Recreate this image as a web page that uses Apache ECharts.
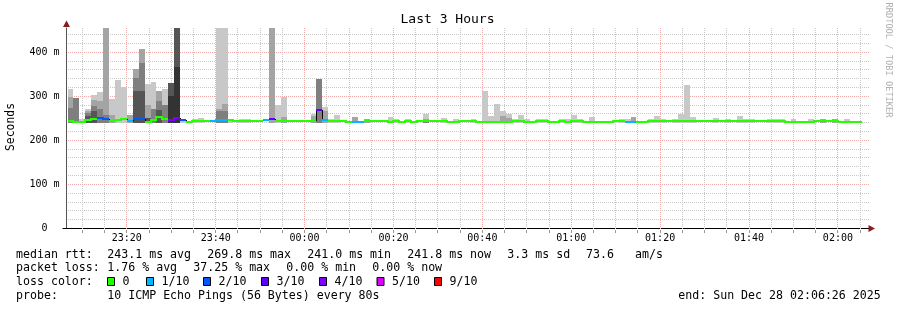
<!DOCTYPE html>
<html><head><meta charset="utf-8">
<script src="https://cdn.jsdelivr.net/npm/echarts@6/dist/echarts.min.js"></script>
<style>html,body{margin:0;padding:0;background:#fff}#c{width:897px;height:310px}</style>
</head><body><div id="c"></div>
<script>
// ---------------- data ----------------
const axisStart = '23:06:26';
const dataStart = '23:06:40';
const stepSeconds = 80;
const spanMinutes = 180;
const xTickLabels = ['23:20','23:40','00:00','00:20','00:40','01:00','01:20','01:40','02:00'];
const yTickValues = [0, 100, 200, 300, 400];
const yMax = 455;
const smokeLow = 240.5;

const median = [
 244,242,242,246.5,249,251,248.5,244,246,248.5,
 244,248.5,248.5,242,246,253,248.5,246,251,246,
 242,243,243,243,245,246,246,247,243,243,
 243,243,245,246,249.5,245,245,245,245,245,
 245,245,269.8,246,243,245,243,242,242.5,242.5,
 243,243,243,243,241.5,243,241,243,241,243,
 243,243,243,243,242,242,243,243,243,242,
 242,242,242,242,242,243,243,242,242,243,
 243,242,242,243,242,243,243,242,242,241.5,
 241.5,241.5,243,243,242,242,241,241,243,243,
 243,243,243,243,244,243,243,243,243,244,
 243,243,244.5,243,243,243,244.5,243,243,243,
 243,241,241,241,241,241,243,243,243,243,
 241,241,241,242
];
const loss = [
 0,0,0,0,0,2,2,0,0,0,
 1,2,2,0,0,0,0,4,4,2,
 0,0,0,0,1,1,1,0,0,0,
 0,0,0,1,3,0,0,0,0,0,
 0,0,3,1,0,0,0,0,1,1,
 0,0,0,0,0,0,0,0,0,0,
 0,0,0,0,0,0,0,0,0,0,
 0,0,0,0,0,0,0,0,0,0,
 0,0,0,0,0,0,0,0,0,0,
 0,0,0,0,1,1,0,0,0,0,
 0,0,0,0,0,0,0,0,0,0,
 0,0,0,0,0,0,0,0,0,0,
 0,0,0,0,0,0,0,0,0,0,
 0,0,0,0
];
// smoke band tops, lightest (outer pings) to darkest (inner pings); 0 = no band
const smoke1 = [
 317,0,249,271,303,310,0,294,337,321,
 0,0,0,328,333,0,317,0,0,249,
 0,249,250,0,0,470,470,249,0,247.5,
 247.5,0,0,0,0,281,299,0,0,0,
 0,260,0,276,249,258,0,0,0,0,
 0,0,0,0,253,247.5,0,247.5,0,0,
 260,0,0,251,0,247.5,0,0,247.5,0,
 312,256,283,267,260,247.5,258,247.5,0,249,
 249,0,0,249,247.5,258,247.5,0,253,0,
 0,0,0,249,249,0,0,0,247.5,256,
 247.5,0,249,260,326,253,0,0,0,251,
 0,247.5,0,256,247.5,247.5,0,0,247.5,247.5,
 247.5,0,247.5,0,0,247.5,0,0,0,0,
 0,247.5,0,0
];
const smoke2 = [
 299,0,0,266,292,290,470,258,0,0,
 258,362,407,280,0,312,0,0,0,0,
 0,0,0,0,0,271.5,283,0,0,0,
 0,0,0,0,470,0,253,0,0,0,
 0,255,0,266,0,0,0,0,253,0,
 249,0,0,0,0,0,0,0,0,0,
 249,0,0,0,0,0,0,0,0,0,
 0,0,0,256,251,0,0,0,0,0,
 0,0,0,0,0,0,0,0,0,0,
 0,0,0,0,0,253,0,0,0,0,
 0,0,0,0,0,0,0,0,0,0,
 0,0,0,0,0,0,0,0,0,0,
 0,0,0,0,0,0,0,248,0,248,
 0,0,0,0
];
const smoke3 = [
 273,297,0,262,278,271,258,0,0,0,
 0,342,376,0,271,290,281,0,0,0,
 0,0,0,0,0,266,266,0,0,0,
 0,0,0,0,0,0,0,0,0,0,
 0,0,340,0,0,0,0,0,0,0,
 0,0,0,0,0,0,0,0,0,0,
 247,0,0,0,0,0,0,0,0,0,
 0,0,0,0,0,0,0,0,0,0,
 0,0,0,0,0,0,0,0,0,0,
 0,0,0,0,0,0,0,0,0,0,
 0,0,0,0,0,0,0,0,0,0,
 0,0,0,0,0,0,0,0,0,0,
 0,0,0,0,0,0,0,0,0,0,
 0,0,0,0
];
const smoke4 = [
 0,0,0,256,266,0,0,0,0,0,
 0,312,312,250,0,270,0,330,470,0,
 0,0,0,0,0,0,0,0,0,0,
 0,0,0,0,0,0,0,0,0,0,
 0,0,0,0,0,0,0,0,0,0,
 0,0,0,0,0,0,0,0,0,0,
 0,0,0,0,0,0,0,0,0,0,
 0,0,0,0,0,0,0,0,0,0,
 0,0,0,0,0,0,0,0,0,0,
 0,0,0,0,0,0,0,0,0,0,
 0,0,0,0,0,0,0,0,0,0,
 0,0,0,0,0,0,0,0,0,0,
 0,0,0,0,0,0,0,0,0,0,
 0,0,0,0
];
const smoke5 = [
 0,0,0,0,0,0,0,0,0,0,
 0,0,0,0,0,0,0,300,367,0,
 0,0,0,0,0,0,0,0,0,0,
 0,0,0,0,0,0,0,0,0,0,
 0,0,0,0,0,0,0,0,0,0,
 0,0,0,0,0,0,0,0,0,0,
 0,0,0,0,0,0,0,0,0,0,
 0,0,0,0,0,0,0,0,0,0,
 0,0,0,0,0,0,0,0,0,0,
 0,0,0,0,0,0,0,0,0,0,
 0,0,0,0,0,0,0,0,0,0,
 0,0,0,0,0,0,0,0,0,0,
 0,0,0,0,0,0,0,0,0,0,
 0,0,0,0
];
const lossLevels = [0, 1, 2, 3, 4, 5, 9];
const lossLabels = ['0', '1/10', '2/10', '3/10', '4/10', '5/10', '9/10'];
const lossColorList = ['#26ff00', '#00b8ff', '#0059ff', '#5e00ff', '#7e00ff', '#dd00ff', '#ff0000'];
const smokeShades = ['#c8c8c8', '#a4a4a4', '#7f7f7f', '#555555', '#333333'];

// ---------------- chart ----------------
const MONO = "'DejaVu Sans Mono', monospace";
function toMin(s) {
  const p = s.split(':').map(Number);
  let m = p[0] * 60 + p[1] + (p[2] || 0) / 60;
  if (p[0] < 12) m += 1440;
  return m;
}
const T0 = toMin(axisStart), T1 = T0 + spanMinutes;
const D0 = toMin(dataStart), STEP = stepSeconds / 60;
const xMajor = xTickLabels.map(toMin);
const xMinor = [];
for (let t = Math.ceil(T0 / 5) * 5; t < T1; t += 5) {
  if (!xMajor.some(v => Math.abs(v - t) < 1e-6)) xMinor.push(t);
}
const yMajor = yTickValues.filter(v => v > 0);
const yMinor = [];
for (let v = 20; v < yMax; v += 20) if (v % 100 !== 0) yMinor.push(v);

const lossColor = {};
lossLevels.forEach((l, k) => lossColor[l] = lossColorList[k]);
const smokeLevels = [smoke1, smoke2, smoke3, smoke4, smoke5];

const stepRows = median.map((m, i) => [D0 + i * STEP, D0 + (i + 1) * STEP, m]);

const chart = echarts.init(document.getElementById('c'), null, {renderer: 'canvas'});

function fmtTime(v) {
  if (Math.abs(v / 20 - Math.round(v / 20)) > 1e-6) return '';
  const mm = Math.round(v);
  const h = Math.floor(mm / 60) % 24, m = mm % 60;
  return (h < 10 ? '0' : '') + h + ':' + (m < 10 ? '0' : '') + m;
}

const MAJOR_GRID = '#f2aaaa', MINOR_GRID = '#c8c8c8';

const option = {
  animation: false,
  backgroundColor: '#ffffff',
  grid: {left: 66.5, top: 28, width: 800, height: 200.5, containLabel: false},
  xAxis: {
    type: 'value', min: T0, max: T1, splitNumber: 9,
    axisLine: {show: true, lineStyle: {color: '#000', width: 1}},
    axisTick: {show: false},
    splitLine: {show: false},
    axisLabel: {
      show: true, margin: 5, fontFamily: MONO, fontSize: 10, color: '#000',
      showMinLabel: false, showMaxLabel: false,
      formatter: fmtTime
    }
  },
  yAxis: {
    type: 'value', min: 0, max: yMax, interval: 100,
    axisLine: {show: true, lineStyle: {color: '#555', width: 1}},
    axisTick: {show: false},
    splitLine: {show: false},
    axisLabel: {
      show: true, margin: 7, fontFamily: MONO, fontSize: 10, color: '#000',
      showMaxLabel: false,
      formatter: v => v === 0 ? '0\u00a0\u00a0' : (v + ' m')
    }
  },
  series: [
    { // vertical grid
      type: 'custom', silent: true, clip: false, z: 1,
      data: xMajor.map(v => [v, 1]).concat(xMinor.map(v => [v, 0])),
      renderItem: function (params, api) {
        const t = api.value(0), major = api.value(1);
        const a = api.coord([t, 0]), b = api.coord([t, yMax]);
        const x = Math.round(a[0] - 0.5) + 0.5;
        return {type: 'group', children: [
          {type: 'line', shape: {x1: x, y1: Math.round(a[1]), x2: x, y2: Math.round(b[1])},
           style: {stroke: major ? MAJOR_GRID : MINOR_GRID, lineWidth: 1, lineDash: [1, 1]}},
          {type: 'line', shape: {x1: x, y1: Math.round(a[1]) + 1, x2: x, y2: Math.round(a[1]) + 4},
           style: {stroke: '#9a9a9a', lineWidth: 1}}
        ]};
      }
    },
    { // horizontal grid
      type: 'custom', silent: true, clip: false, z: 1,
      data: yMajor.map(v => [T0, v, 1]).concat(yMinor.map(v => [T0, v, 0])),
      renderItem: function (params, api) {
        const v = api.value(1), major = api.value(2);
        const a = api.coord([T0, v]), b = api.coord([T1, v]);
        const y = Math.round(a[1] - 0.5) + 0.5;
        return {type: 'line', shape: {x1: Math.round(a[0]) + 1, y1: y, x2: Math.round(b[0]) + 3, y2: y},
          style: {stroke: major ? MAJOR_GRID : MINOR_GRID, lineWidth: 1, lineDash: [1, 1]}};
      }
    },
    { // smoke
      type: 'custom', silent: true, clip: true, z: 2,
      encode: {x: [0, 1], y: 2},
      data: stepRows,
      renderItem: function (params, api) {
        const i = params.dataIndex;
        const t0 = api.value(0), t1 = api.value(1);
        const x0 = Math.round(api.coord([t0, 0])[0]);
        const x1 = Math.round(api.coord([t1, 0])[0]);
        const yLo = Math.round(api.coord([t0, smokeLow])[1]);
        const children = [];
        smokeLevels.forEach((arr, k) => {
          const top = arr[i];
          if (top && top > smokeLow) {
            const yTop = Math.round(api.coord([t0, Math.min(top, yMax)])[1]);
            children.push({type: 'rect', shape: {x: x0, y: yTop, width: x1 - x0, height: yLo - yTop},
              style: {fill: smokeShades[k]}});
          }
        });
        return {type: 'group', children};
      }
    },
    { // median line coloured by loss
      type: 'custom', silent: true, clip: true, z: 3,
      encode: {x: [0, 1], y: 2},
      data: stepRows,
      renderItem: function (params, api) {
        const i = params.dataIndex;
        const t0 = api.value(0), t1 = api.value(1), m = api.value(2);
        const c = lossColor[loss[i]];
        const x0 = Math.round(api.coord([t0, m])[0]);
        const x1 = Math.round(api.coord([t1, m])[0]);
        const y = Math.round(api.coord([t0, m])[1]);
        const children = [];
        if (i > 0) {
          const yp = Math.round(api.coord([t0, median[i - 1]])[1]);
          const same = loss[i - 1] === loss[i];
          if (yp !== y) {
            children.push({type: 'line', shape: {x1: same ? x0 : x0 + 0.5, y1: yp, x2: same ? x0 : x0 + 0.5, y2: y},
              style: {stroke: same ? c : '#000', lineWidth: same ? 2 : 1, lineCap: same ? 'square' : 'butt'}});
          }
        }
        children.push({type: 'line', shape: {x1: x0, y1: y, x2: x1, y2: y},
          style: {stroke: c, lineWidth: 2, lineCap: 'butt'}});
        return {type: 'group', children};
      }
    }
  ],
  graphic: []
};

// texts & decorations
const g = [];
function txt(s, x, y, opt) {
  g.push(Object.assign({type: 'text', x: x, y: y, silent: true,
    style: Object.assign({text: s, fill: '#000', font: "11.6px 'DejaVu Sans Mono'", textAlign: 'left', textVerticalAlign: 'middle'}, (opt && opt.style) || {})},
    opt && opt.rotation !== undefined ? {rotation: opt.rotation} : {}));
}
txt('Last 3 Hours', 447.5, 20, {style: {font: "13px 'DejaVu Sans Mono'", textAlign: 'center'}});
txt('Seconds', 11, 127, {rotation: Math.PI / 2, style: {font: "11.4px 'DejaVu Sans Mono'", textAlign: 'center'}});
txt('RRDTOOL / TOBI OETIKER', 888.5, 60, {rotation: -Math.PI / 2, style: {font: "8.7px 'DejaVu Sans Mono'", textAlign: 'center', fill: '#b0b0b0'}});

const L1 = 254.5, L2 = 268.3, L3 = 282, L4 = 296;
[['median rtt:', 16], ['243.1 ms avg', 107.3], ['269.8 ms max', 207.3], ['241.0 ms min', 307.3],
 ['241.8 ms now', 407.3], ['3.3 ms sd', 507.3], ['73.6', 586], ['am/s', 635]].forEach(a => txt(a[0], a[1], L1));
[['packet loss:', 16], ['1.76 % avg', 107.3], ['37.25 % max', 193.3], ['0.00 % min', 286.3], ['0.00 % now', 372.3]]
  .forEach(a => txt(a[0], a[1], L2));
txt('loss color:', 16, L3);
const boxX = [107.5, 146.5, 203.5, 261.5, 319.5, 377, 434.5];
lossLabels.forEach((lab, k) => {
  g.push({type: 'rect', silent: true, shape: {x: boxX[k], y: 277.5, width: 7, height: 8},
    style: {fill: lossColorList[k], stroke: '#000', lineWidth: 1}});
  txt(lab, boxX[k] + 15, L3);
});
txt('probe:', 16, L4);
txt('10 ICMP Echo Pings (56 Bytes) every 80s', 107.3, L4);
txt('end: Sun Dec 28 02:06:26 2025', 678.3, L4);

// axis extensions and arrows
g.push({type: 'line', silent: true, shape: {x1: 62.5, y1: 228.5, x2: 67, y2: 228.5}, style: {stroke: '#000', lineWidth: 1}});
g.push({type: 'line', silent: true, shape: {x1: 866, y1: 228.5, x2: 869, y2: 228.5}, style: {stroke: '#000', lineWidth: 1}});
g.push({type: 'polygon', silent: true, shape: {points: [[66.5, 20.5], [63, 27], [70, 27]]}, style: {fill: '#8a1c1c'}});
g.push({type: 'polygon', silent: true, shape: {points: [[875, 228.5], [868.5, 225], [868.5, 232]]}, style: {fill: '#8a1c1c'}});
option.graphic = g;

chart.setOption(option);
</script>
</body></html>
